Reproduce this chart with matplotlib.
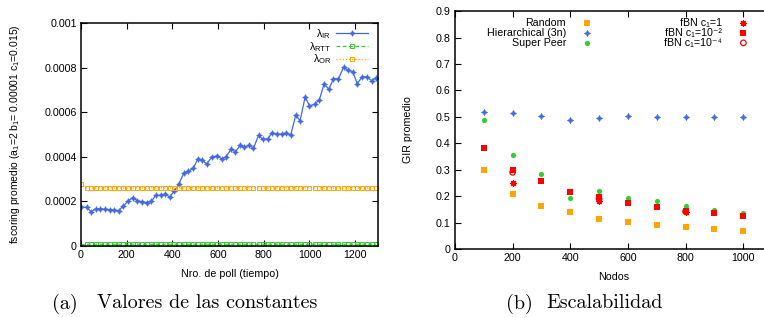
import matplotlib
matplotlib.use("Agg")
import matplotlib.pyplot as plt
from matplotlib.ticker import FixedLocator, FuncFormatter

plt.rcParams["font.family"] = ["Liberation Sans", "DejaVu Sans"]
plt.rcParams["mathtext.fontset"] = "custom"
plt.rcParams["mathtext.rm"] = "Liberation Sans"
plt.rcParams["mathtext.it"] = "Liberation Sans"

# (a) scoring over poll number
poll = [0, 25, 44, 64, 85, 105, 126, 146, 165, 185, 207, 226, 247, 267, 288, 308,
        327, 348, 368, 388, 409, 428, 450, 470, 491, 511, 529, 550, 572, 594, 616,
        635, 657, 676, 697, 715, 736, 755, 777, 796, 818, 835, 857, 878, 898, 918,
        940, 959, 981, 1000, 1022, 1043, 1064, 1085, 1105, 1127, 1149, 1168, 1189,
        1209, 1231, 1251, 1272, 1292]
lambda_ir = [0.000176, 0.000173, 0.000154, 0.000166, 0.000167, 0.000165, 0.000163,
             0.000160, 0.000159, 0.000179, 0.000203, 0.000217, 0.000203, 0.000199,
             0.000195, 0.000200, 0.000227, 0.000227, 0.000233, 0.000220, 0.000247,
             0.000278, 0.000326, 0.000335, 0.000348, 0.000389, 0.000386, 0.000368,
             0.000398, 0.000404, 0.000391, 0.000400, 0.000434, 0.000422, 0.000452,
             0.000443, 0.000452, 0.000438, 0.000496, 0.000478, 0.000480, 0.000508,
             0.000502, 0.000501, 0.000507, 0.000498, 0.000587, 0.000562, 0.000668,
             0.000629, 0.000635, 0.000655, 0.000726, 0.000703, 0.000750, 0.000750,
             0.000801, 0.000789, 0.000782, 0.000728, 0.000759, 0.000759, 0.000741,
             0.000755]
lambda_rtt = [0.000001] + [0.000008] * 63
lambda_or = [0.00028] + [0.00026] * 63

# (b) scalability
nodos = [100, 200, 300, 400, 500, 600, 700, 800, 900, 1000]
gir_random = [0.298, 0.207, 0.162, 0.139, 0.112, 0.101, 0.090, 0.082, 0.075, 0.067]
gir_hier = [0.520, 0.515, 0.505, 0.487, 0.494, 0.505, 0.499, 0.500, 0.500, 0.501]
gir_super = [0.489, 0.357, 0.283, 0.194, 0.218, 0.192, 0.180, 0.164, 0.147, 0.136]
gir_fbn_2 = [0.381, 0.298, 0.256, 0.215, 0.196, 0.173, 0.158, 0.144, 0.135, 0.124]
nodos_fbn = [200, 500, 800]
gir_fbn_1 = [0.251, 0.183, 0.139]
gir_fbn_4 = [0.290, 0.190, 0.142]

BLUE = "#4169e1"
GREEN = "#33cc33"
ORANGE = "#ffa500"
RED = "#ff0000"
FS = 7.7
STAR4 = (4, 1, 0)  # gnuplot-like small 4-point star

fig = plt.figure(figsize=(7.64, 3.18), dpi=100)


def style(ax):
    for s in ax.spines.values():
        s.set_linewidth(1.1)
    ax.tick_params(direction="in", length=4, width=0.8, labelsize=FS,
                   top=True, right=True, pad=3)


fmt = FuncFormatter(lambda v, p: "%g" % round(v, 6))

# ---- left panel
ax1 = fig.add_axes([0.106, 0.2264, 0.3888, 0.7013])
ax1.plot(poll, lambda_ir, color=BLUE, lw=0.9, marker=STAR4, ms=4.2, mew=0.4,
         label=r"$\lambda_{IR}$")
ax1.plot(poll, lambda_rtt, color=GREEN, lw=0.9, ls=(0, (3, 2)), marker="s", ms=2.6,
         mfc="none", mew=0.7, label=r"$\lambda_{RTT}$")
ax1.plot(poll, lambda_or, color=ORANGE, lw=0.9, ls=(0, (1, 1.5)), marker="s", ms=2.6,
         mfc="none", mew=0.7, label=r"$\lambda_{OR}$")
ax1.set_xlim(0, 1300)
ax1.set_ylim(0, 0.001)
ax1.xaxis.set_major_locator(FixedLocator([0, 200, 400, 600, 800, 1000, 1200]))
ax1.yaxis.set_major_locator(FixedLocator([0, 0.0002, 0.0004, 0.0006, 0.0008, 0.001]))
ax1.yaxis.set_major_formatter(fmt)
style(ax1)
ax1.set_xlabel("Nro. de poll (tiempo)", fontsize=FS)
ax1.xaxis.set_label_coords(0.5, -0.105)
ax1.set_ylabel(r"fscoring promedio (a$_1$=2 b$_1$= 0.00001 c$_1$=0.015)", fontsize=7.5)
ax1.yaxis.set_label_coords(-0.2, 0.5)
ax1.legend(loc="upper right", bbox_to_anchor=(0.985, 1.005), fontsize=FS,
           frameon=False, markerfirst=False, handlelength=3.0,
           handletextpad=0.5, labelspacing=-0.12, borderpad=0.0)

# ---- right panel
ax2 = fig.add_axes([0.5955, 0.217, 0.415, 0.748])
h_rand = ax2.scatter(nodos, gir_random, marker="s", s=16, color=ORANGE, lw=0,
                     label="Random", zorder=3)
h_hier = ax2.scatter(nodos, gir_hier, marker=STAR4, s=20, color=BLUE, lw=0.4,
                     label="Hierarchical (3n)", zorder=3)
h_sup = ax2.scatter(nodos, gir_super, marker="o", s=14, color=GREEN, lw=0,
                    label="Super Peer", zorder=3)
h_f1 = ax2.scatter(nodos_fbn, gir_fbn_1, marker=(8, 2, 0), s=18, color=RED, lw=0.9,
                   label="fBN c\u2081=1", zorder=4)
h_f2 = ax2.scatter(nodos, gir_fbn_2, marker="s", s=19, color=RED, lw=0,
                   label="fBN c\u2081=10\u207b\u00b2", zorder=4)
h_f4 = ax2.scatter(nodos_fbn, gir_fbn_4, marker="o", s=16, facecolor="none",
                   edgecolor=RED, lw=0.9, label="fBN c\u2081=10\u207b\u2074", zorder=4)
ax2.set_xlim(0, 1100)
ax2.set_ylim(0, 0.9)
ax2.xaxis.set_major_locator(FixedLocator([0, 200, 400, 600, 800, 1000]))
ax2.yaxis.set_major_locator(FixedLocator([0, 0.1, 0.2, 0.3, 0.4, 0.5, 0.6, 0.7, 0.8, 0.9]))
ax2.yaxis.set_major_formatter(fmt)
style(ax2)
ax2.set_xlabel("Nodos", fontsize=FS)
ax2.xaxis.set_label_coords(0.5, -0.097)
ax2.set_ylabel("GIR promedio", fontsize=FS)
ax2.yaxis.set_label_coords(-0.1325, 0.5)

leg_opts = dict(fontsize=FS, frameon=False, markerfirst=False, handlelength=2.4,
                handletextpad=0.8, borderpad=0.0, labelspacing=0.0, scatterpoints=1)
leg_a = ax2.legend(handles=[h_rand, h_hier, h_sup], loc="upper right",
                   bbox_to_anchor=(0.475, 0.995), **leg_opts)
ax2.add_artist(leg_a)
ax2.legend(handles=[h_f1, h_f2, h_f4], loc="upper right",
           bbox_to_anchor=(0.967, 0.995), **leg_opts)

# captions
cap = dict(family="cmr10", fontsize=14.5, ha="left", va="baseline")
fig.text(52 / 764, 0.03, "(a)", **cap)
fig.text(97 / 764, 0.03, "Valores de las constantes", **cap)
fig.text(506 / 764, 0.03, "(b)", **cap)
fig.text(546 / 764, 0.03, "Escalabilidad", **cap)

fig.savefig("out.png", dpi=100)
